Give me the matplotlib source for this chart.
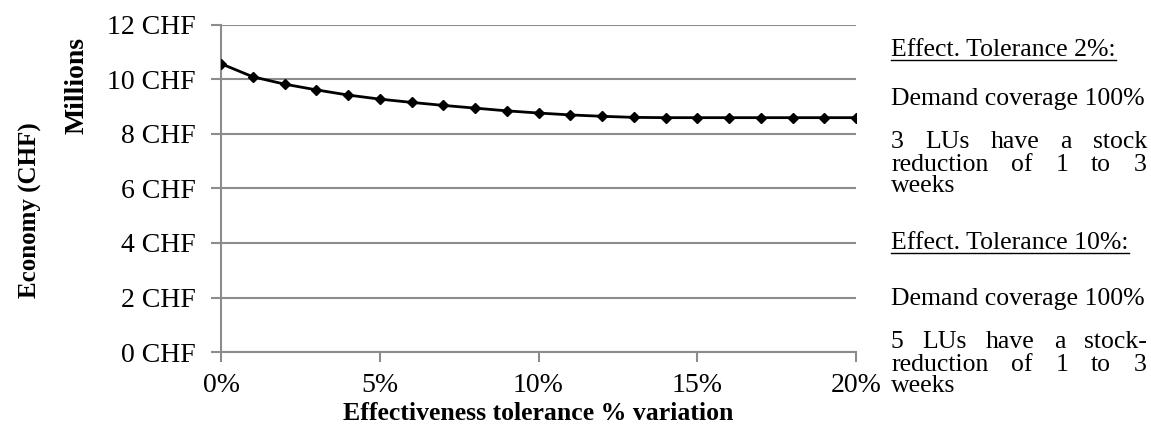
import matplotlib
matplotlib.use("Agg")
import matplotlib.pyplot as plt
from matplotlib.ticker import FuncFormatter, MultipleLocator
from matplotlib.lines import Line2D

plt.rcParams['font.family'] = ['Liberation Serif', 'DejaVu Serif']

# data (tolerance %, economy in millions CHF)
tolerance = list(range(0, 21))
economy = [10.58, 10.10, 9.83, 9.62, 9.43, 9.28, 9.16, 9.05, 8.95, 8.85,
           8.77, 8.70, 8.65, 8.61, 8.60, 8.60, 8.60, 8.60, 8.60, 8.60, 8.60]

notes = [
    ("Effect. Tolerance 2%:", True, False),
    ("Demand coverage 100%", False, False),
    ("3 LUs have a stock", False, True),
    ("reduction of 1 to 3", False, True),
    ("weeks", False, False),
    ("Effect. Tolerance 10%:", True, False),
    ("Demand coverage 100%", False, False),
    ("5 LUs have a stock-", False, True),
    ("reduction of 1 to 3", False, True),
    ("weeks", False, False),
]
note_y = [50, 99, 142, 165, 186, 243, 299, 342, 365, 386]

W, H = 1151, 437
fig = plt.figure(figsize=(W / 100, H / 100), dpi=100)
ax = fig.add_axes([221 / W, 1 - 352 / H, (856 - 221) / W, (352 - 25) / H])

grey = '#8c8c8c'
ax.plot(tolerance, economy, color='black', lw=2, marker='D', ms=5.5, zorder=3)
ax.set_xlim(0, 20)
ax.set_ylim(0, 12)
ax.yaxis.set_major_locator(MultipleLocator(2))
ax.xaxis.set_major_locator(MultipleLocator(5))
ax.yaxis.set_major_formatter(FuncFormatter(lambda v, p: f"{v:.0f} CHF"))
ax.xaxis.set_major_formatter(FuncFormatter(lambda v, p: f"{v:.0f}%"))
ax.grid(axis='y', color=grey, lw=1.5)
ax.set_axisbelow(True)
for s in ['top', 'right']:
    ax.spines[s].set_visible(False)
for s in ['left', 'bottom']:
    ax.spines[s].set_color(grey)
    ax.spines[s].set_linewidth(1.5)
ax.tick_params(axis='both', color=grey, width=1.5, length=7, labelsize=20, direction='out')
ax.tick_params(axis='y', pad=11)
ax.tick_params(axis='x', pad=8)

ax.set_xlabel("Effectiveness tolerance % variation", fontsize=18.5, fontweight='bold', labelpad=3)
fig.text(30 / W, 1 - 210 / H, "Economy (CHF)", rotation=90, fontsize=18, fontweight='bold',
         ha='center', va='center')
fig.text(77 / W, 1 - 85 / H, "Millions", rotation=90, fontsize=20, fontweight='bold',
         ha='center', va='center')

# side notes, justified between x0 and x1
fig.canvas.draw()
r = fig.canvas.get_renderer()
x0, x1 = 891 / W, 1147 / W
for (txt, under, justify), yp in zip(notes, note_y):
    y = 1 - yp / H
    if justify:
        words = txt.split()
        arts = [fig.text(0, y, w, fontsize=18.5, va='center') for w in words]
        widths = [a.get_window_extent(r).width / W for a in arts]
        gap = (x1 - x0 - sum(widths)) / (len(words) - 1)
        x = x0
        for a, w in zip(arts, widths):
            a.set_x(x)
            x += w + gap
    else:
        t = fig.text(x0, y, txt, fontsize=18.5, va='center')
        if under:
            bb = t.get_window_extent(r)
            ly = (bb.y0 + 1) / H
            fig.add_artist(Line2D([x0, bb.x1 / W], [ly, ly], color='black', lw=1,
                                  transform=fig.transFigure))

fig.savefig("out.png", dpi=100)
